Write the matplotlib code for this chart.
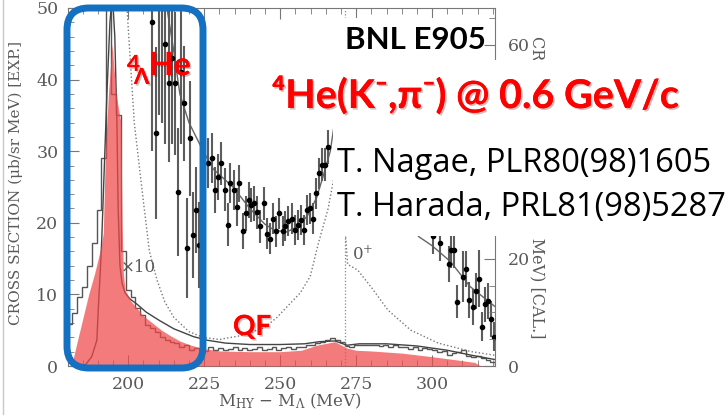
import numpy as np
import matplotlib
matplotlib.use("Agg")
import matplotlib.pyplot as plt
import matplotlib.patheffects as pe
from matplotlib.patches import FancyBboxPatch, Rectangle
from matplotlib.lines import Line2D
from matplotlib.ticker import MultipleLocator

plt.rcParams["mathtext.fontset"] = "dejavuserif"

# ---- data ----
# step histogram (EXP), bins of 1.6 MeV starting at 180 MeV
hist_start = 180.0
hist_bw = 1.6
hist_vals = [5.8, 7.4, 9.6, 11.0, 14.0, 17.2, 21.8, 29.0, 50.5, 38.0,
             35.0, 16.0, 10.6, 9.7, 8.1, 7.1, 5.7, 5.3, 4.8, 4.1,
             3.6, 3.4, 3.2, 2.7, 2.9, 2.2, 2.5, 2.4, 2.1, 2.6,
             2.3, 2.5, 2.2, 2.4, 2.6, 2.3, 2.5, 2.2, 2.4, 2.6,
             2.3, 2.4, 2.6, 2.3, 2.5, 2.6, 2.4, 2.7, 2.6, 2.9,
             3.0, 3.2, 3.4, 3.6, 3.9, 3.6, 3.3, 2.8, 2.7, 2.9,
             3.0, 3.0, 2.9, 3.0, 2.8, 2.9, 2.7, 2.9, 2.6, 2.7,
             2.4, 2.6, 2.2, 2.5, 2.4, 2.3, 2.0, 2.1, 1.6, 1.8,
             2.0, 2.3, 1.4, 1.2, 1.4, 1.1, 0.9, 0.5]

# red shaded calculation (4_Lambda He + QF)
red_x = [181.5, 183, 185, 187, 189, 191, 191.8, 192.5, 193.5, 194.7, 196.0, 197.6,
         198.0, 198.4, 199, 201, 203, 205, 208, 211, 214, 217, 220, 224,
         230, 240, 250, 257, 262, 268, 272, 275, 280, 290, 300, 309, 314, 316]
red_y = [0.3, 3.0, 6.5, 10.0, 13.0, 16.5, 18.5, 30.0, 38.0, 45.0, 38.0, 34.0,
         20.0, 13.0, 10.6, 9.0, 8.0, 7.0, 6.0, 5.0, 4.2, 3.5, 3.0, 2.5,
         2.1, 2.0, 2.0, 2.2, 2.9, 3.4, 2.5, 2.2, 2.1, 1.8, 1.3, 0.8, 0.5, 0.0]

# thin solid curve (x10 scale calculation)
lo_x = [183, 186, 188, 189.7, 190.2, 190.8, 191.3, 192, 193, 194, 194.8, 195.6,
        196.3, 196.7, 197.3, 198, 199, 200.5, 203, 206, 210.5, 215, 221.5, 226,
        232, 240, 250, 258, 263, 268, 272, 276, 285, 295, 305, 313, 320.7]
lo_y = [0.0, 0.2, 1.3, 3.6, 8.3, 13.0, 17.6, 26.0, 38.0, 48.0, 52.0, 46.0,
        34.0, 22.0, 14.0, 11.5, 10.2, 9.4, 8.6, 7.5, 6.3, 5.2, 4.1, 3.6,
        3.2, 3.0, 3.0, 3.1, 3.4, 3.5, 2.9, 3.1, 3.1, 2.8, 2.2, 1.5, 0.9]

# solid fit curve through the large-scale data
fit_x = [212, 215, 217, 220, 224.7, 228, 234.5, 240, 245, 248, 252, 256, 259,
         262, 264.5, 266.5, 270, 276, 282, 288, 292, 295.5, 300, 306, 312.5, 320.7]
fit_y = [52, 44, 38, 34, 30, 27.5, 25, 22, 19.8, 19, 18.7, 19.5, 21,
         23.5, 27, 30, 40, 45, 38, 28, 22, 18.1, 16.8, 14.6, 11.1, 8.3]

# dotted curves: below and above the Sigma threshold
dot1_x = [199.6, 202, 205, 207, 209.5, 212, 215, 220, 224.7, 230, 237.8, 245,
          249, 253, 256.6, 259.9, 262.5, 265.8, 268, 270, 271.2]
dot1_y = [50, 34, 23, 16, 12, 9, 6.8, 4.8, 4.0, 3.7, 4.3, 5.4,
          6.8, 8.6, 10.2, 12.5, 17.0, 22.0, 27.0, 35.0, 45.0]
dot2_x = [271.4, 272.2, 275.5, 280, 285.5, 293, 302, 313, 320.7]
dot2_y = [19.0, 14.2, 13.4, 11.0, 7.8, 5.0, 3.2, 2.0, 1.5]
sigma_thr = 271.2

# data points with error bars
pts_x = [208.0, 209.0, 210.0, 211.0, 212.0, 213.3, 214.5, 215.5, 216.3, 217.3,
         218.3, 219.2, 220.2, 221.2, 222.2, 223.2,
         226.4, 227.5, 228.6, 229.5, 230.6, 231.7, 232.7, 233.6, 234.7, 235.8,
         236.6, 237.7, 238.7, 239.6, 240.5, 241.5, 242.4, 243.5, 244.6, 245.6,
         246.7, 247.8, 248.8, 249.7, 250.8, 251.6, 252.7, 253.8, 254.9, 255.8,
         256.9, 258.0, 258.9, 259.9, 260.8, 261.8, 262.8, 263.7, 264.8, 265.9,
         300.4, 302.6, 305.4, 306.2, 307.2, 308.3, 310.3, 311.2, 312.3, 313.3,
         314.3, 315.4, 316.4, 317.3, 318.3, 319.4, 320.3]
pts_y = [48, 32.5, 55, 50, 45, 39.5, 43, 39.5, 24.3, 41,
         36.7, 16.5, 31.8, 18.3, 21.8, 16.9,
         28.3, 29.0, 24.6, 26.4, 28.3, 24.6, 19.7, 25.5, 24.6, 22.2,
         25.5, 18.8, 21.3, 23.2, 22.5, 22.7, 21.5, 19.5, 22.7, 18.5,
         17.8, 20.6, 18.8, 21.3, 18.8, 19.5, 20.2, 20.6, 19.0, 19.7,
         20.4, 19.0, 21.8, 22.0, 20.6, 24.1, 26.9, 28.1, 28.1, 30.6,
         18.1, 17.2, 14.3, 16.2, 16.2, 9.0, 12.5, 13.5, 9.2, 8.2,
         10.5, 12.2, 5.5, 8.6, 9.1, 6.6, 4.1]
pts_e = [18, 12, 20, 16, 14, 11, 12, 10, 9, 10,
         8, 7, 8, 6, 6, 6,
         3.5, 3.5, 3.2, 3.2, 3.0, 3.0, 3.0, 2.8, 2.8, 2.6,
         2.6, 2.5, 2.5, 2.5, 2.4, 2.4, 2.3, 2.3, 2.3, 2.2,
         2.2, 2.2, 2.2, 2.2, 2.1, 2.1, 2.1, 2.1, 2.1, 2.1,
         2.1, 2.1, 2.1, 2.1, 2.1, 2.2, 2.2, 2.3, 2.3, 2.4,
         2.5, 2.5, 2.5, 2.5, 2.5, 2.3, 3.5, 2.5, 2.5, 2.5,
         2.5, 4.0, 2.0, 2.5, 2.5, 2.5, 2.0]

W, H = 727, 415


def fx(x):
    return x / W


def fy(y):
    return 1 - y / H


grey = "#5a5a5a"
serif = "DejaVu Serif"

fig = plt.figure(figsize=(W / 100, H / 100), dpi=100)
ax = fig.add_axes([fx(68), fy(366), (495 - 68) / W, (366 - 8) / H])

edges = hist_start + hist_bw * np.arange(len(hist_vals) + 1)
ax.stairs(hist_vals, edges, color="#555555", lw=1.0, zorder=2)
ax.plot(lo_x, lo_y, color="#444444", lw=1.0, zorder=2)
ax.plot(fit_x, fit_y, color="#666666", lw=1.0, zorder=2)
ax.plot(dot1_x, dot1_y, color="#777777", lw=1.0, ls=(0, (1, 1.6)), zorder=2)
ax.plot(dot2_x, dot2_y, color="#777777", lw=1.0, ls=(0, (1, 1.6)), zorder=2)
ax.axvline(sigma_thr, color="#888888", lw=0.9, ls=(0, (1, 1.6)), zorder=2)
ax.errorbar(pts_x, pts_y, yerr=pts_e, fmt="o", ms=3.0, color="black",
            ecolor="#5c5c5c", elinewidth=1.5, capsize=0, zorder=2.5)
ax.fill_between(red_x, 0, red_y, color="#f04848", alpha=0.72, lw=0, zorder=3)

ax.text(197.4, 13.7, "×10", fontsize=12, family=serif, color=grey, va="center", zorder=4)
ax.text(273.5, 15.6, r"$0^{+}$", fontsize=12, color=grey, va="center", zorder=4)

ax.set_xlim(180.2, 320.7)
ax.set_ylim(0, 50)
ax.xaxis.set_major_locator(MultipleLocator(25))
ax.xaxis.set_minor_locator(MultipleLocator(5))
ax.yaxis.set_major_locator(MultipleLocator(10))
ax.yaxis.set_minor_locator(MultipleLocator(2))
ax.tick_params(which="both", direction="in", top=True, right=False, colors="#777777",
               labelcolor=grey, labelsize=12.5, pad=7)
ax.tick_params(which="major", length=8)
ax.tick_params(which="minor", length=4)
for lab in ax.get_xticklabels() + ax.get_yticklabels():
    lab.set_family(serif)
for s in ax.spines.values():
    s.set_color("#777777")
ax.set_ylabel("CROSS SECTION (μb/sr MeV) [EXP.]", family=serif, fontsize=11,
              color=grey)
ax.yaxis.set_label_coords(-0.105, 0.51)
ax.set_xlabel(r"M$_{\rm HY}$ $-$ M$_\Lambda$ (MeV)", family=serif, fontsize=12,
              color=grey)
ax.xaxis.set_label_coords(0.52, -0.072)

ax2 = ax.twinx()
ax2.set_ylim(0, 66.9)
ax2.yaxis.set_major_locator(MultipleLocator(20))
ax2.yaxis.set_minor_locator(MultipleLocator(5))
ax2.tick_params(which="both", direction="in", colors="#777777", labelcolor=grey,
                labelsize=12.5, pad=9)
ax2.tick_params(which="major", length=8)
ax2.tick_params(which="minor", length=4)
for lab in ax2.get_yticklabels():
    lab.set_family(serif)
for s in ax2.spines.values():
    s.set_visible(False)
ax2.set_ylabel("CROSS SECTION (μb/sr MeV) [CAL.]", family=serif, fontsize=11.5,
               color=grey, rotation=270, va="center")
ax2.yaxis.set_label_coords(1.097, 0.5)

# slide overlays
fig.add_artist(Line2D([fx(3), fx(3)], [0, 1], color="#c8c8c8", lw=1.0))
for x0, y0, x1, y1 in [(335, 18, 484, 60), (250, 60, 727, 128), (333, 128, 727, 236)]:
    fig.add_artist(Rectangle((fx(x0), fy(y1)), (x1 - x0) / W, (y1 - y0) / H,
                             facecolor="white", edgecolor="none", zorder=4))

fig.add_artist(FancyBboxPatch((fx(67), fy(368)), (203 - 67) / W, (368 - 8) / H,
                              boxstyle="round,pad=0,rounding_size=0.03",
                              mutation_aspect=W / H, facecolor="none",
                              edgecolor="#1470c0", lw=5, zorder=5))

shadow = [pe.withSimplePatchShadow(offset=(1.2, -1.2), alpha=0.25), pe.Normal()]
red = "#ff0000"
fig.text(fx(127), fy(71), "4", fontsize=16, weight="bold", family="Lato", color=red,
         zorder=6, path_effects=shadow)
fig.text(fx(134), fy(84), "Λ", fontsize=16, weight="bold", family=["Lato", "DejaVu Sans"],
         color=red, zorder=6, path_effects=shadow)
fig.text(fx(149), fy(75), "He", fontsize=23, weight="bold", family="Lato", color=red,
         zorder=6, path_effects=shadow)
fig.text(fx(233), fy(335), "QF", fontsize=20, weight="bold", family="Lato", color=red,
         zorder=6, path_effects=shadow)
fig.text(fx(345), fy(49), "BNL E905", fontsize=22.5, weight="bold", family="Lato",
         color="black", zorder=6)
fig.text(fx(272), fy(108), "⁴He(K⁻,π⁻) @ 0.6 GeV/c", fontsize=28.5, weight="bold",
         family=["Lato", "DejaVu Sans"], color=red, zorder=6, path_effects=shadow)
fig.text(fx(337), fy(172), "T. Nagae, PLR80(98)1605", fontsize=23.5, family="Open Sans",
         color="black", zorder=6)
fig.text(fx(337), fy(216), "T. Harada, PRL81(98)5287", fontsize=23.5, family="Open Sans",
         color="black", zorder=6)

fig.savefig("out.png", dpi=100)
